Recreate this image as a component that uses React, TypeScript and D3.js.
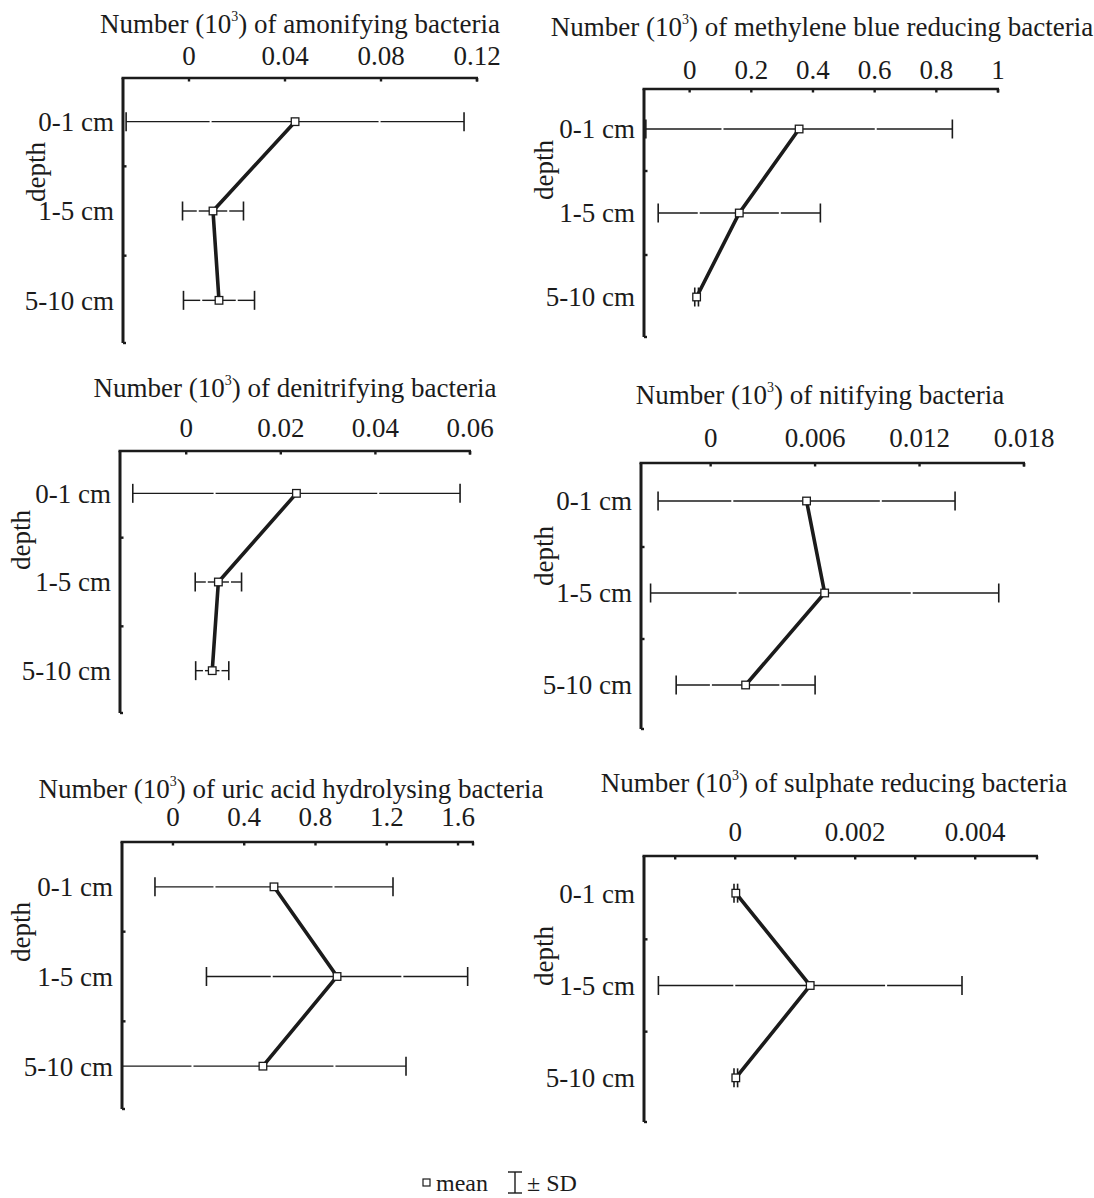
import React from "react";
import * as d3 from "d3";

// depth classes (rows of every panel)
const depths = ["0-1 cm", "1-5 cm", "5-10 cm"];

// means and standard deviations (units: 10^3)
const amonifyingMean = [0.0442, 0.01, 0.0125];
const amonifyingSD = [0.0704, 0.0127, 0.0148];
const methyleneMean = [0.355, 0.161, 0.0226];
const methyleneSD = [0.497, 0.263, 0.006];
const denitrifyingMean = [0.0233, 0.0068, 0.0055];
const denitrifyingSD = [0.0346, 0.0049, 0.0035];
const nitrifyingMean = [0.00551, 0.00655, 0.00201];
const nitrifyingSD = [0.00853, 0.01, 0.00399];
const uricMean = [0.567, 0.921, 0.505];
const uricSD = [0.668, 0.733, 0.803];
const sulphateMean = [0.00001, 0.00125, 0.00001];
const sulphateSD = [0.00003, 0.00253, 0.00003];

// tick values and their labels
const amonifyingTicks = [0, 0.04, 0.08, 0.12];
const amonifyingLabels = ["0", "0.04", "0.08", "0.12"];
const methyleneTicks = [0, 0.2, 0.4, 0.6, 0.8, 1];
const methyleneLabels = ["0", "0.2", "0.4", "0.6", "0.8", "1"];
const denitrifyingTicks = [0, 0.02, 0.04, 0.06];
const denitrifyingLabels = ["0", "0.02", "0.04", "0.06"];
const nitrifyingTicks = [0, 0.006, 0.012, 0.018];
const nitrifyingLabels = ["0", "0.006", "0.012", "0.018"];
const uricTicks = [0, 0.4, 0.8, 1.2, 1.6];
const uricLabels = ["0", "0.4", "0.8", "1.2", "1.6"];
const sulphateTicks = [0, 0.002, 0.004];
const sulphateLabels = ["0", "0.002", "0.004"];
const sulphateMinor = [-0.001, 0, 0.001, 0.002, 0.003, 0.004];

const FONT = "'Liberation Serif', 'Times New Roman', serif";
const INK = "#1b1b1b";
const FS = 27;

type Panel = {
  name: string;
  mean: number[];
  sd: number[];
  ticks: number[];
  labels: string[];
  minor?: number[];
  domain: [number, number];
  x0: number;
  x1: number;
  axisY: number;
  band: [number, number];
  titleX: number;
  titleY: number;
  tickY: number;
  depthX: number;
  depthY: number;
};

const panels: Panel[] = [
  {
    name: "amonifying bacteria",
    mean: amonifyingMean, sd: amonifyingSD,
    ticks: amonifyingTicks, labels: amonifyingLabels,
    domain: [-0.0275, 0.12], x0: 123, x1: 477,
    axisY: 78, band: [77, 345],
    titleX: 300, titleY: 33, tickY: 65, depthX: 36, depthY: 172,
  },
  {
    name: "methylene blue reducing bacteria",
    mean: methyleneMean, sd: methyleneSD,
    ticks: methyleneTicks, labels: methyleneLabels,
    domain: [-0.148, 1.0], x0: 644, x1: 998,
    axisY: 89, band: [87, 339],
    titleX: 822, titleY: 36, tickY: 79, depthX: 544, depthY: 170,
  },
  {
    name: "denitrifying bacteria",
    mean: denitrifyingMean, sd: denitrifyingSD,
    ticks: denitrifyingTicks, labels: denitrifyingLabels,
    domain: [-0.014, 0.06], x0: 120, x1: 470,
    axisY: 451, band: [449, 715],
    titleX: 295, titleY: 397, tickY: 437, depthX: 21, depthY: 540,
  },
  {
    name: "nitifying bacteria",
    mean: nitrifyingMean, sd: nitrifyingSD,
    ticks: nitrifyingTicks, labels: nitrifyingLabels,
    domain: [-0.004, 0.018], x0: 641, x1: 1024,
    axisY: 463, band: [455, 731],
    titleX: 820, titleY: 404, tickY: 447, depthX: 544, depthY: 556,
  },
  {
    name: "uric acid hydrolysing bacteria",
    mean: uricMean, sd: uricSD,
    ticks: uricTicks, labels: uricLabels,
    domain: [-0.286, 1.684], x0: 122, x1: 473,
    axisY: 842, band: [842, 1111],
    titleX: 291, titleY: 798, tickY: 826, depthX: 21, depthY: 932,
  },
  {
    name: "sulphate reducing bacteria",
    mean: sulphateMean, sd: sulphateSD,
    ticks: sulphateTicks, labels: sulphateLabels, minor: sulphateMinor,
    domain: [-0.00152, 0.00503], x0: 644, x1: 1037,
    axisY: 856, band: [847, 1124],
    titleX: 834, titleY: 792, tickY: 841, depthX: 544, depthY: 956,
  },
];

// one half of an error bar, with the small white break at its middle
function HalfBar({ from, to, y, cap }: { from: number; to: number; y: number; cap: boolean }) {
  const len = Math.abs(to - from);
  const dir = to > from ? 1 : -1;
  const mid = (from + to) / 2;
  return (
    <g stroke={INK} strokeWidth={1.4}>
      {len > 10 ? (
        <>
          <line x1={from} x2={mid - dir} y1={y} y2={y} />
          <line x1={mid + dir} x2={to} y1={y} y2={y} />
        </>
      ) : (
        <line x1={from} x2={to} y1={y} y2={y} />
      )}
      {cap && <line x1={to} x2={to} y1={y - 9.5} y2={y + 9.5} strokeWidth={1.6} />}
    </g>
  );
}

function DepthPanel({ p }: { p: Panel }) {
  const x = d3.scaleLinear().domain(p.domain).range([p.x0, p.x1]);
  const y = d3.scaleBand<string>().domain(depths).range(p.band);
  const cy = (d: string) => (y(d) as number) + y.bandwidth() / 2;
  const yBottom = p.band[1] - 2;

  const line = d3
    .line<number>()
    .x((m) => x(m))
    .y((_, i) => cy(depths[i]));

  const marks = p.minor ?? p.ticks;
  const boundaries = depths.slice(1).map((d) => y(d) as number);

  return (
    <g>
      <text x={p.titleX} y={p.titleY} textAnchor="middle" fontSize={FS}>
        <tspan>Number (10</tspan>
        <tspan fontSize={14} dy={-12}>3</tspan>
        <tspan dy={12}>) of {p.name}</tspan>
      </text>

      {p.ticks.map((t, i) => (
        <text key={i} x={x(t)} y={p.tickY} textAnchor="middle" fontSize={FS}>
          {p.labels[i]}
        </text>
      ))}

      {/* top x axis */}
      <line x1={p.x0 - 1.5} x2={p.x1 + 1} y1={p.axisY} y2={p.axisY} stroke={INK} strokeWidth={2.6} />
      {marks.map((t, i) => (
        <line key={i} x1={x(t)} x2={x(t)} y1={p.axisY} y2={p.axisY + 3.5} stroke={INK} strokeWidth={2.4} />
      ))}
      <line x1={p.x1} x2={p.x1} y1={p.axisY} y2={p.axisY + 3.5} stroke={INK} strokeWidth={2.4} />

      {/* left depth axis */}
      <line x1={p.x0} x2={p.x0} y1={p.axisY} y2={yBottom} stroke={INK} strokeWidth={3} />
      {boundaries.map((b, i) => (
        <line key={i} x1={p.x0} x2={p.x0 + 3.5} y1={b} y2={b} stroke={INK} strokeWidth={2.4} />
      ))}
      <line x1={p.x0} x2={p.x0 + 3} y1={yBottom} y2={yBottom} stroke={INK} strokeWidth={2.4} />

      {depths.map((d) => (
        <text key={d} x={p.x0 - 9} y={cy(d)} dy="0.35em" textAnchor="end" fontSize={FS}>
          {d}
        </text>
      ))}

      <text
        transform={`translate(${p.depthX},${p.depthY}) rotate(-90)`}
        textAnchor="middle"
        dy="0.35em"
        fontSize={FS}
      >
        depth
      </text>

      {/* error bars */}
      {depths.map((d, i) => {
        const m = p.mean[i];
        const lo = m - p.sd[i];
        const hi = m + p.sd[i];
        const loC = Math.max(lo, p.domain[0]);
        return (
          <g key={d}>
            <HalfBar from={x(m)} to={x(loC)} y={cy(d)} cap={lo >= p.domain[0]} />
            <HalfBar from={x(m)} to={x(hi)} y={cy(d)} cap={true} />
          </g>
        );
      })}

      <path d={line(p.mean) ?? ""} fill="none" stroke={INK} strokeWidth={3.6} />

      {depths.map((d, i) => (
        <rect
          key={d}
          x={x(p.mean[i]) - 3.8}
          y={cy(d) - 3.8}
          width={7.6}
          height={7.6}
          fill="#fff"
          stroke={INK}
          strokeWidth={1.3}
        />
      ))}
    </g>
  );
}

export default function App() {
  return (
    <div style={{ position: "absolute", left: 0, top: 0 }}>
      <svg width={1094} height={1198} fontFamily={FONT} fill={INK} style={{ display: "block", background: "#fff" }}>
        {panels.map((p) => (
          <DepthPanel key={p.name} p={p} />
        ))}

        {/* legend */}
        <g>
          <rect x={423} y={1179} width={7} height={7} fill="#fff" stroke={INK} strokeWidth={1.2} />
          <text x={436} y={1191} fontSize={24}>mean</text>
          <g stroke={INK} strokeWidth={1.4}>
            <line x1={515} x2={515} y1={1172} y2={1193} />
            <line x1={508} x2={522} y1={1172} y2={1172} />
            <line x1={508} x2={522} y1={1193} y2={1193} />
          </g>
          <text x={527} y={1191} fontSize={24}>± SD</text>
        </g>
      </svg>
    </div>
  );
}
